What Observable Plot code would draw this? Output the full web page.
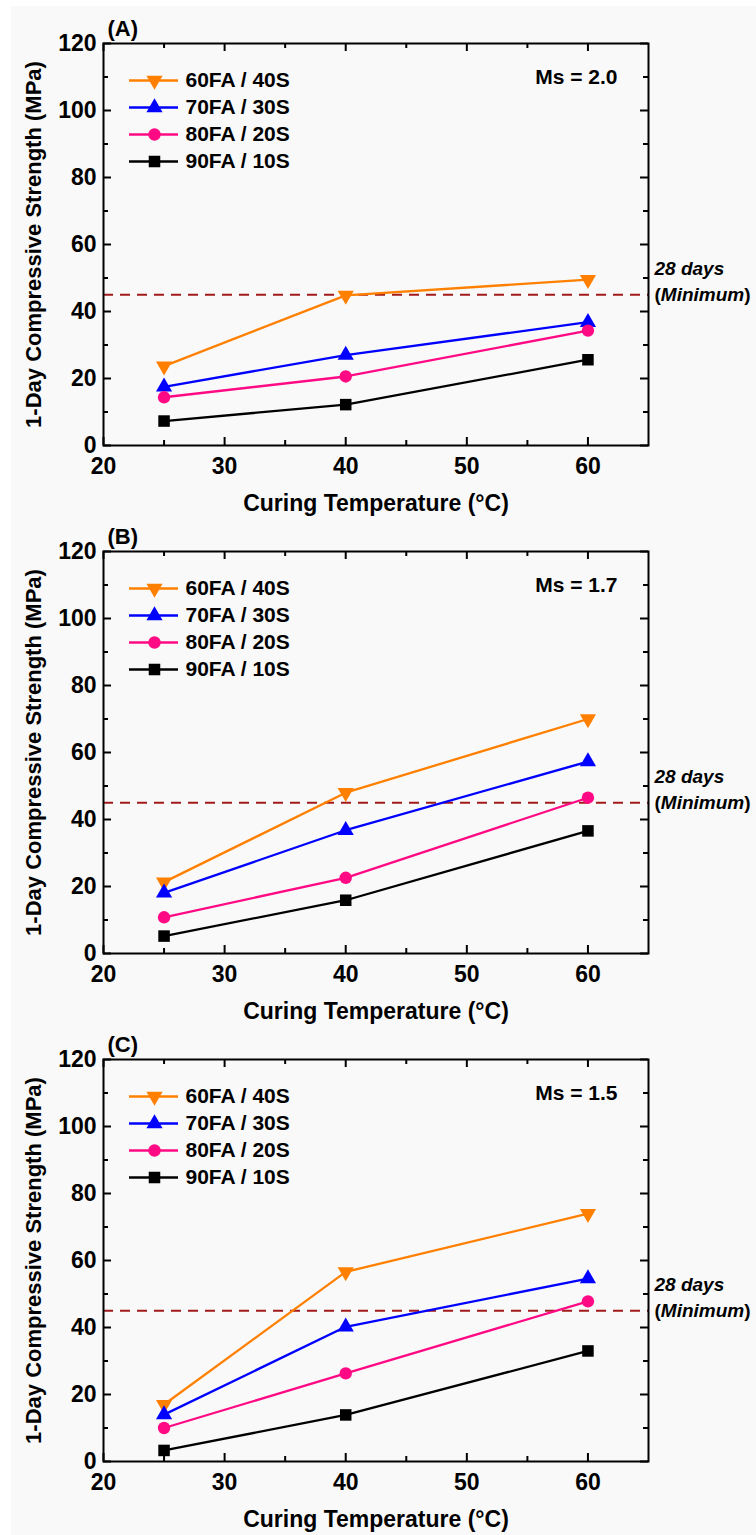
<!DOCTYPE html>
<html><head><meta charset="utf-8">
<script src="https://cdn.jsdelivr.net/npm/d3@7"></script>
<script src="https://cdn.jsdelivr.net/npm/@observablehq/plot@0.6"></script>
<style>
body{margin:0;background:#fff;}
#wrap{position:absolute;left:11px;top:6px;width:745px;height:1529px;background:#f9f9f9;}
#charts{position:absolute;left:0;top:0;width:756px;}
#charts svg{display:block;}
</style></head><body><div id="wrap"></div><div id="charts"></div>
<script>
// ---- data ----
const temps = [25, 40, 60];
const seriesNames = ["60FA / 40S", "70FA / 30S", "80FA / 20S", "90FA / 10S"];
const seriesColors = ["#ff8000", "#0000ff", "#ff0a84", "#000000"];
const seriesSymbols = ["triangle", "triangle", "circle", "square"];
const seriesRotate = [180, 0, 0, 0];
const panelLabels = ["(A)", "(B)", "(C)"];
const msLabels = ["Ms = 2.0", "Ms = 1.7", "Ms = 1.5"];
// values[series][temp]
const panelA = [[23.7, 44.8, 49.5], [17.5, 27.0, 36.8], [14.4, 20.6, 34.3], [7.3, 12.2, 25.6]];
const panelB = [[21.3, 48.0, 70.0], [18.1, 36.8, 57.3], [10.8, 22.6, 46.5], [5.2, 15.9, 36.6]];
const panelC = [[17.0, 56.6, 74.0], [14.0, 40.2, 54.6], [10.0, 26.3, 47.8], [3.3, 13.9, 33.0]];
const minimum28 = 45;
const minLabel1 = "28 days";
const minLabel2 = "(Minimum)";
const xTitle = "Curing Temperature (°C)";
const yTitle = "1-Day Compressive Strength (MPa)";
const xDomain = [20, 65];
const yDomain = [0, 120];
const xTicksMajor = [20, 30, 40, 50, 60];
const xTicksMinor = [25, 35, 45, 55];
const yTicksMajor = [0, 20, 40, 60, 80, 100, 120];
const yTicksMinor = [10, 30, 50, 70, 90, 110];

const FONT = '"Liberation Sans", Arial, sans-serif';

function panel(idx, values) {
  const W = 756, H = 508, mL = 103, mR = 108, mT = 43, mB = 63;
  const pw = W - mL - mR, ph = H - mT - mB;
  const xAt = p => xDomain[0] + p * (xDomain[1] - xDomain[0]) / pw;
  const yAt = p => yDomain[1] - p * (yDomain[1] - yDomain[0]) / ph;
  const symR = [6, 6, 6.2, 6.5];
  const marks = [];
  // ticks (inward)
  marks.push(Plot.tickX(xTicksMajor, {x: d => d, insetTop: ph - 8, stroke: "black", strokeWidth: 2}));
  marks.push(Plot.tickX(xTicksMajor, {x: d => d, insetBottom: ph - 8, stroke: "black", strokeWidth: 2}));
  marks.push(Plot.tickX(xTicksMinor, {x: d => d, insetTop: ph - 5, stroke: "black", strokeWidth: 2}));
  marks.push(Plot.tickX(xTicksMinor, {x: d => d, insetBottom: ph - 5, stroke: "black", strokeWidth: 2}));
  marks.push(Plot.tickY(yTicksMajor, {y: d => d, insetRight: pw - 8, stroke: "black", strokeWidth: 2}));
  marks.push(Plot.tickY(yTicksMajor, {y: d => d, insetLeft: pw - 8, stroke: "black", strokeWidth: 2}));
  marks.push(Plot.tickY(yTicksMinor, {y: d => d, insetRight: pw - 5, stroke: "black", strokeWidth: 2}));
  marks.push(Plot.tickY(yTicksMinor, {y: d => d, insetLeft: pw - 5, stroke: "black", strokeWidth: 2}));
  // tick labels
  marks.push(Plot.text(xTicksMajor, {x: d => d, text: d => String(d), frameAnchor: "bottom", dy: 21, lineAnchor: "middle", fontSize: 23, fontWeight: "bold", fill: "black"}));
  marks.push(Plot.text(yTicksMajor, {y: d => d, text: d => String(d), frameAnchor: "left", textAnchor: "end", dx: -7, lineAnchor: "middle", fontSize: 23, fontWeight: "bold", fill: "black"}));
  // axis titles
  marks.push(Plot.text([xTitle], {text: d => d, frameAnchor: "bottom", dy: 58, lineAnchor: "middle", fontSize: 23, fontWeight: "bold", fill: "black"}));
  marks.push(Plot.text([yTitle], {text: d => d, x: () => xDomain[0], y: () => (yDomain[0] + yDomain[1]) / 2, dx: -70, rotate: -90, textAnchor: "middle", lineAnchor: "middle", fontSize: 22, fontWeight: "bold", fill: "black"}));
  // panel label + Ms
  marks.push(Plot.text([panelLabels[idx]], {text: d => d, frameAnchor: "top-left", textAnchor: "start", dx: 4, dy: -15, lineAnchor: "middle", fontSize: 22, fontWeight: "bold", fill: "black"}));
  marks.push(Plot.text([msLabels[idx]], {text: d => d, frameAnchor: "top-right", textAnchor: "end", dx: -31, dy: 34, lineAnchor: "middle", fontSize: 21, fontWeight: "bold", fill: "black"}));
  // 28-day minimum line
  marks.push(Plot.ruleY([minimum28], {y: d => d, stroke: "#a31a1a", strokeWidth: 2, strokeDasharray: "10,7"}));
  marks.push(Plot.text([minimum28], {y: d => d, text: () => minLabel1, frameAnchor: "right", textAnchor: "start", dx: 6, dy: -26, lineAnchor: "middle", fontSize: 19, fontWeight: "bold", fontStyle: "italic", fill: "black"}));
  marks.push(Plot.text([minimum28], {y: d => d, text: () => minLabel2, frameAnchor: "right", textAnchor: "start", dx: 6, dy: 0, lineAnchor: "middle", fontSize: 19, fontWeight: "bold", fontStyle: "italic", fill: "black"}));
  // series
  seriesNames.forEach((s, i) => {
    const d = temps.map((t, j) => ({x: t, y: values[i][j]}));
    marks.push(Plot.line(d, {x: "x", y: "y", stroke: seriesColors[i], strokeWidth: 2.3}));
    marks.push(Plot.dot(d, {x: "x", y: "y", symbol: seriesSymbols[i], rotate: seriesRotate[i], r: symR[i], fill: seriesColors[i], stroke: "none"}));
  });
  // legend
  seriesNames.forEach((s, i) => {
    const ly = yAt(37 + 27 * i);
    marks.push(Plot.ruleY([ly], {y: d => d, x1: xAt(26), x2: xAt(75), stroke: seriesColors[i], strokeWidth: 2.3}));
    marks.push(Plot.dot([ly], {x: xAt(51), y: d => d, symbol: seriesSymbols[i], rotate: seriesRotate[i], r: symR[i], fill: seriesColors[i], stroke: "none"}));
    marks.push(Plot.text([ly], {x: xAt(82), y: d => d, text: () => s, textAnchor: "start", lineAnchor: "middle", fontSize: 21, fontWeight: "bold", fill: "black"}));
  });
  marks.push(Plot.frame({stroke: "black", strokeWidth: 2}));

  const svg = Plot.plot({
    width: W, height: H,
    marginLeft: mL, marginRight: mR, marginTop: mT, marginBottom: mB,
    x: {domain: xDomain, axis: null},
    y: {domain: yDomain, axis: null},
    style: {background: "transparent", overflow: "visible", fontFamily: FONT},
    marks
  });
  // mixed-style "(Minimum)": upright parentheses, italic word
  svg.querySelectorAll("text").forEach(t => {
    if (t.textContent === minLabel2) {
      t.textContent = "";
      const parts = [["(", "normal"], ["Minimum", "italic"], [")", "normal"]];
      parts.forEach(([str, st]) => {
        const ts = document.createElementNS("http://www.w3.org/2000/svg", "tspan");
        ts.setAttribute("font-style", st);
        ts.textContent = str;
        t.appendChild(ts);
      });
    }
  });
  return svg;
}

const host = document.getElementById("charts");
[panelA, panelB, panelC].forEach((v, i) => host.appendChild(panel(i, v)));
</script></body></html>
